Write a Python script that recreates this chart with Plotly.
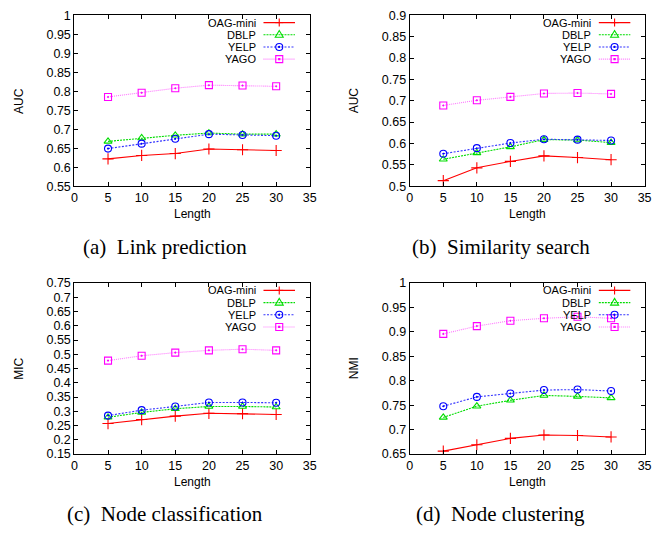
import plotly.graph_objects as go

lengths = [5, 10, 15, 20, 25, 30]
series_names = ["OAG-mini", "DBLP", "YELP", "YAGO"]
x_ticks = [0, 5, 10, 15, 20, 25, 30, 35]

# (a) Link prediction (AUC)
lp_oag = [0.622, 0.631, 0.636, 0.648, 0.646, 0.644]
lp_dblp = [0.668, 0.677, 0.684, 0.690, 0.687, 0.687]
lp_yelp = [0.649, 0.662, 0.675, 0.687, 0.685, 0.683]
lp_yago = [0.785, 0.796, 0.808, 0.816, 0.815, 0.813]

# (b) Similarity search (AUC)
ss_oag = [0.513, 0.543, 0.558, 0.571, 0.567, 0.562]
ss_dblp = [0.563, 0.578, 0.592, 0.609, 0.608, 0.602]
ss_yelp = [0.576, 0.589, 0.601, 0.610, 0.609, 0.607]
ss_yago = [0.689, 0.701, 0.709, 0.717, 0.718, 0.716]

# (c) Node classification (MIC)
nc_oag = [0.257, 0.271, 0.283, 0.293, 0.292, 0.289]
nc_dblp = [0.279, 0.296, 0.309, 0.317, 0.317, 0.315]
nc_yelp = [0.285, 0.304, 0.317, 0.331, 0.331, 0.330]
nc_yago = [0.478, 0.495, 0.506, 0.514, 0.518, 0.514]

# (d) Node clustering (NMI)
cl_oag = [0.656, 0.669, 0.682, 0.689, 0.688, 0.685]
cl_dblp = [0.725, 0.748, 0.760, 0.770, 0.768, 0.765]
cl_yelp = [0.748, 0.767, 0.774, 0.781, 0.782, 0.779]
cl_yago = [0.896, 0.912, 0.923, 0.928, 0.931, 0.928]

panel_series = [
    [lp_oag, lp_dblp, lp_yelp, lp_yago],
    [ss_oag, ss_dblp, ss_yelp, ss_yago],
    [nc_oag, nc_dblp, nc_yelp, nc_yago],
    [cl_oag, cl_dblp, cl_yelp, cl_yago],
]
y_titles = ["AUC", "AUC", "MIC", "NMI"]
y_ranges = [(0.55, 1.0), (0.5, 0.9), (0.15, 0.75), (0.65, 1.0)]
captions = ["(a)\u00a0\u00a0Link prediction", "(b)\u00a0\u00a0Similarity search",
            "(c)\u00a0\u00a0Node classification", "(d)\u00a0\u00a0Node clustering"]

W, H = 659, 537
# panel boxes in pixels: (left, right, top, bottom)
boxes = [(72.5, 311.5, 8.5, 184), (413, 651.5, 8.5, 184),
         (72.5, 311.5, 283.5, 459), (413, 651.5, 283.5, 459)]

colors = ["#ff0000", "#00dd00", "#0000ff", "#ff00ff"]
line_colors = ["#ff0000", "#00dd00", "#3333ff", "#ff77ff"]
dashes = ["solid", "2px,1px", "2px,1.5px", "1px,1px"]
symbols = ["cross-thin-open", "triangle-up-open", "circle-open-dot", "square-open-dot"]
sizes = [8, 7, 7, 7]

SANS = "Liberation Sans, Arial, sans-serif"
SERIF = "Liberation Serif, Times New Roman, serif"

fig = go.Figure()
shapes = []
annotations = []

for i in range(4):
    l, r, t, b = boxes[i]
    sfx = "" if i == 0 else str(i + 1)
    xa, ya = "x" + sfx, "y" + sfx
    for k in range(4):
        fig.add_trace(go.Scatter(
            x=lengths, y=panel_series[i][k], mode="lines+markers",
            name=series_names[k], showlegend=False, xaxis=xa, yaxis=ya,
            line=dict(color=line_colors[k], width=1.1, dash=dashes[k]),
            marker=dict(symbol=symbols[k], size=sizes[k], color=colors[k],
                        line=dict(color=colors[k], width=1.1)),
        ))
    axis_common = dict(showline=True, linecolor="black", linewidth=1.2, mirror="ticks",
                       ticks="inside", ticklen=4, tickcolor="black", tickwidth=1,
                       showgrid=False, zeroline=False,
                       tickfont=dict(family=SANS, size=12.5, color="black"))
    fig.layout["xaxis" + sfx] = dict(domain=[l / W, r / W], range=[0, 35], tickvals=x_ticks,
                                     anchor=ya, **axis_common)
    y0, y1 = y_ranges[i]
    fig.layout["yaxis" + sfx] = dict(domain=[1 - b / H, 1 - t / H], range=[y0, y1], dtick=0.05,
                                     tick0=0, anchor=xa, **axis_common)

    # axis titles
    annotations.append(dict(text="Length", xref="paper", yref="paper",
                            x=((l + r) / 2) / W, y=1 - (b + 29) / H, showarrow=False,
                            font=dict(family=SANS, size=12, color="black"),
                            xanchor="center", yanchor="middle"))
    annotations.append(dict(text=y_titles[i], xref="paper", yref="paper",
                            x=(l - 57) / W, y=1 - ((t + b) / 2) / H, showarrow=False, textangle=-90,
                            font=dict(family=SANS, size=12, color="black"),
                            xanchor="center", yanchor="middle"))
    # caption
    annotations.append(dict(text=captions[i], xref="paper", yref="paper",
                            x=((l + r) / 2 - 27) / W, y=1 - (b + 62) / H, showarrow=False,
                            font=dict(family=SERIF, size=21, color="black"),
                            xanchor="center", yanchor="middle"))

    # legend (gnuplot style: text right-aligned, then sample)
    xd, yd = xa + " domain", ya + " domain"
    pw, ph = r - l, b - t
    tx = 185 / pw
    lx0, lx1, mx = 192 / pw, 224 / pw, 208 / pw
    for k in range(4):
        yy = 1 - (7.5 + 12.5 * k) / ph
        annotations.append(dict(text=series_names[k], xref=xd, yref=yd, x=tx, y=yy,
                                showarrow=False, xanchor="right", yanchor="middle",
                                borderpad=0,
                                font=dict(family=SANS, size=11, color="black")))
        shapes.append(dict(type="line", xref=xd, yref=yd, x0=lx0, x1=lx1, y0=yy, y1=yy,
                           line=dict(color=line_colors[k], width=1.1, dash=dashes[k])))
        base = dict(xref=xd, yref=yd, xsizemode="pixel", ysizemode="pixel",
                    xanchor=mx, yanchor=yy, line=dict(color=colors[k], width=1.1))
        if k == 0:
            shapes.append(dict(type="line", x0=-4, x1=4, y0=0, y1=0, **base))
            shapes.append(dict(type="line", x0=0, x1=0, y0=-4, y1=4, **base))
        elif k == 1:
            shapes.append(dict(type="path", path="M -4,-2.5 L 4,-2.5 L 0,4.2 Z", **base))
        elif k == 2:
            shapes.append(dict(type="circle", x0=-3.5, x1=3.5, y0=-3.5, y1=3.5, **base))
            shapes.append(dict(type="circle", x0=-0.6, x1=0.6, y0=-0.6, y1=0.6,
                               fillcolor=colors[k], **base))
        else:
            shapes.append(dict(type="rect", x0=-3.5, x1=3.5, y0=-3.5, y1=3.5, **base))
            shapes.append(dict(type="rect", x0=-0.6, x1=0.6, y0=-0.6, y1=0.6,
                               fillcolor=colors[k], **base))

fig.update_layout(width=W, height=H, margin=dict(l=0, r=0, t=0, b=0),
                  plot_bgcolor="white", paper_bgcolor="white",
                  shapes=shapes, annotations=annotations, showlegend=False)

fig.write_html("out.html", config={"displayModeBar": False},
               post_script="document.documentElement.style.overflow='hidden';"
                           "document.body.style.margin='0';document.body.style.padding='0';"
                           "document.body.style.overflow='hidden';")
